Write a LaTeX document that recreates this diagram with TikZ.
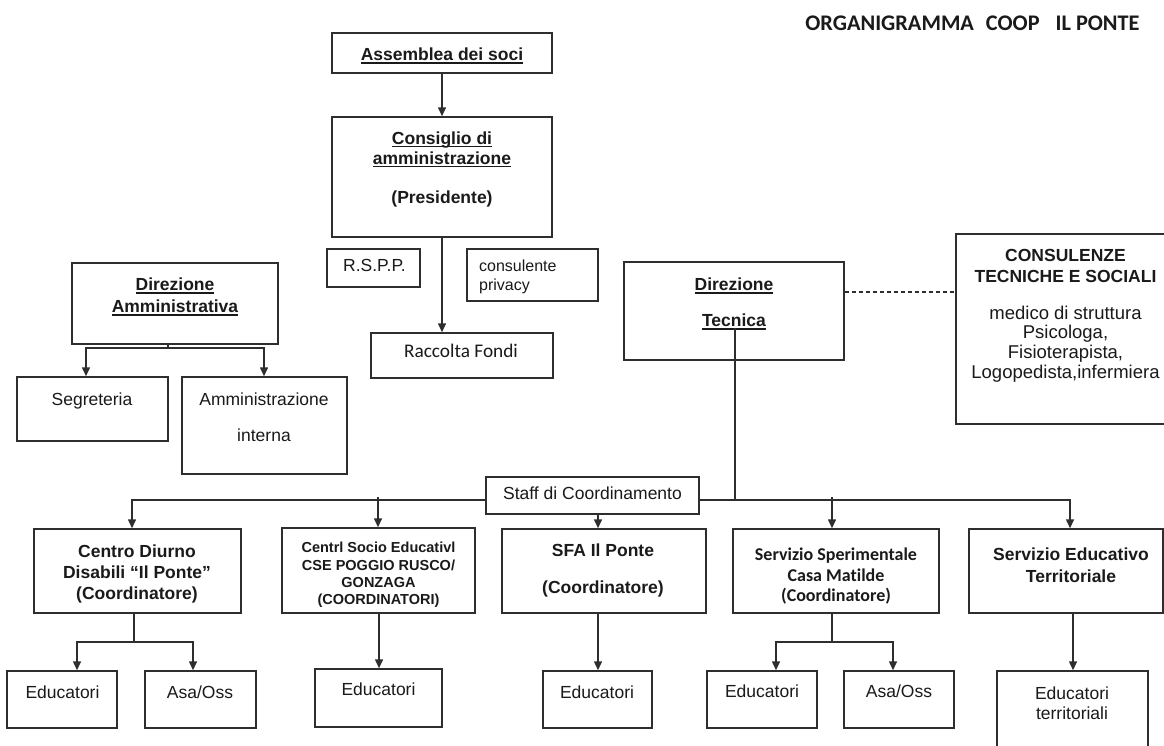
\documentclass[tikz,border=0pt]{standalone}
\usepackage{fontspec}
\setmainfont{Liberation Sans}
\newfontfamily\carl[Ligatures={NoCommon}]{Carlito}
\usetikzlibrary{arrows.meta}
\definecolor{lc}{HTML}{2E2E2E}
\definecolor{tc}{HTML}{1A1A1A}
\newsavebox\ulbox
\newcommand\ulx[1]{\sbox\ulbox{#1}\rlap{\rule[-3.2pt]{\wd\ulbox}{1.3pt}}\usebox\ulbox}
\newcommand\fB{\fontsize{17.5}{20}\selectfont\bfseries}
\newcommand\fR{\fontsize{17.5}{20}\selectfont}
\newcommand\fS{\fontsize{16}{19}\selectfont}
\newcommand\fSt{\fontsize{17.5}{20}\selectfont}
\newcommand\fCs{\fontsize{14.5}{17}\selectfont\bfseries}
\newcommand\fCo{\fontsize{18.5}{20}\selectfont}
\newcommand\fK{\carl\fontsize{19.3}{22}\selectfont}
\newcommand\fKB{\carl\bfseries\fontsize{18}{20}\selectfont}
\newcommand\fT{\carl\bfseries\fontsize{22.3}{25}\selectfont}
\newcommand\bx[5]{\node[box,minimum width=#4,minimum height=#5] (#1) at (#2,#3) {};}
\tikzset{
  ln/.style={line width=1.5pt, draw=lc},
  arr/.style={-{Triangle[length=9pt,width=8pt]}},
  box/.style={draw=lc, line width=1.5pt, rectangle, inner sep=0pt},
  tx/.style={anchor=base, inner sep=0pt, text=tc},
}
\begin{document}
\begin{tikzpicture}[x=1pt,y=-1pt]
\useasboundingbox (0,0) rectangle (1164,745);
\clip (0,0) rectangle (1164,745);
\fill[white] (0,0) rectangle (1164,745);

% title
\node[tx,font=\fT] (title) at (972.5,30) {ORGANIGRAMMA\hspace{12pt}COOP\hspace{16pt}IL PONTE};

% boxes
\bx{ass}{442}{53}{220}{40}
\bx{cda}{442}{177}{220}{120}
\bx{rspp}{373.5}{268}{93}{38}
\bx{priv}{532.5}{275}{131}{52}
\bx{rf}{462}{355.5}{182}{45}
\bx{da}{175}{303.5}{206}{81}
\bx{seg}{92.5}{409}{151}{64}
\bx{ai}{264.5}{425.5}{165}{97}
\bx{dt}{734}{311}{220}{98}
\bx{cons}{1066}{329}{220}{190}
\bx{staff}{592.5}{495.5}{213}{37}
\bx{cd}{137.5}{571}{207}{84}
\bx{cse}{378.5}{570.5}{193}{85}
\bx{sfa}{604}{571}{204}{84}
\bx{ss}{836}{571}{206}{84}
\bx{set}{1066}{571}{194}{84}
\bx{cde}{62}{699.5}{110}{57}
\bx{cda2}{200.5}{699.5}{111}{57}
\bx{csee}{378.5}{698}{127}{58}
\bx{sfae}{597.5}{699.5}{109}{57}
\bx{sse}{762}{699.5}{110}{57}
\bx{ssa}{899}{699.5}{110}{57}
\bx{sete}{1072.5}{715.5}{151}{89}

% texts
\node[tx,font=\fB] (t1) at (442,60.5) {\ulx{Assemblea dei soci}};
\node[tx,font=\fB] (t2) at (442,144) {\ulx{Consiglio di}};
\node[tx,font=\fB] (t3) at (442,164) {\ulx{amministrazione}};
\node[tx,font=\fB] (t4) at (442,203) {(Presidente)};
\node[tx,font=\fR] (t5) at (374.5,271) {R.S.P.P.};
\node[tx,font=\fS,anchor=base west] (t6) at (479,271) {consulente};
\node[tx,font=\fS,anchor=base west] (t7) at (479,290) {privacy};
\node[tx,font=\fK] (t8) at (461,357.5) {Raccolta Fondi};
\node[tx,font=\fB] (t9) at (175,290.5) {\ulx{Direzione}};
\node[tx,font=\fB] (t10) at (175,312.5) {\ulx{Amministrativa}};
\node[tx,font=\fR] (t11) at (92,405) {Segreteria};
\node[tx,font=\fR] (t12) at (264,405) {Amministrazione};
\node[tx,font=\fR] (t13) at (264,441.5) {interna};
\node[tx,font=\fB] (t14) at (734,290.5) {\ulx{Direzione}};
\node[tx,font=\fB] (t15) at (734,326.5) {\ulx{Tecnica}};
\node[tx,font=\fB] (t16) at (1065.5,261.5) {CONSULENZE};
\node[tx,font=\fB] (t17) at (1065.5,282) {TECNICHE E SOCIALI};
\node[tx,font=\fCo] (t18) at (1065.5,319.5) {medico di struttura};
\node[tx,font=\fCo] (t19) at (1065.5,338.5) {Psicologa,};
\node[tx,font=\fCo] (t20) at (1065.5,358) {Fisioterapista,};
\node[tx,font=\fCo] (t21) at (1065.5,378) {Logopedista,infermiera};
\node[tx,font=\fSt] (t22) at (592.5,499.5) {Staff di Coordinamento};
\node[tx,font=\fB] (t23) at (137,557.5) {Centro Diurno};
\node[tx,font=\fB] (t24) at (137,578) {Disabili “Il Ponte”};
\node[tx,font=\fB] (t25) at (137,599) {(Coordinatore)};
\node[tx,font=\fCs] (t26) at (378.5,552.5) {Centrl Socio Educativl};
\node[tx,font=\fCs] (t27) at (378.5,570) {CSE POGGIO RUSCO/};
\node[tx,font=\fCs] (t28) at (378.5,587) {GONZAGA};
\node[tx,font=\fCs] (t29) at (378.5,604.5) {(COORDINATORI)};
\node[tx,font=\fB] (t30) at (603,556.5) {SFA Il Ponte};
\node[tx,font=\fB] (t31) at (603,593.5) {(Coordinatore)};
\node[tx,font=\fKB] (t32) at (836,560.5) {Servizio Sperimentale};
\node[tx,font=\fKB] (t33) at (836,581) {Casa Matilde};
\node[tx,font=\fKB] (t34) at (836,601.5) {(Coordinatore)};
\node[tx,font=\fB] (t35) at (1071,560.5) {Servizio Educativo};
\node[tx,font=\fB] (t36) at (1071,582) {Territoriale};
\node[tx,font=\fR] (t37) at (62.5,698.5) {Educatori};
\node[tx,font=\fR] (t38) at (200,698.5) {Asa/Oss};
\node[tx,font=\fR] (t39) at (378.5,695.5) {Educatori};
\node[tx,font=\fR] (t40) at (597,698) {Educatori};
\node[tx,font=\fR] (t41) at (762,697) {Educatori};
\node[tx,font=\fR] (t42) at (899,697.5) {Asa/Oss};
\node[tx,font=\fR] (t43) at (1072,699) {Educatori};
\node[tx,font=\fR] (t44) at (1072,719) {territoriali};

% junction coordinates
\coordinate (daj) at (168,348);
\coordinate (daL) at (86,348);
\coordinate (daR) at (264,348);
\coordinate (dtTop) at (735,328);
\coordinate (dtj) at (735,500);
\coordinate (hL) at (132,500);
\coordinate (hR) at (1070,500);
\coordinate (cseT) at (378,497);
\coordinate (ssT) at (832,497);
\coordinate (sfaX) at (598,0);
\coordinate (cdj) at (134,642);
\coordinate (cdjL) at (77,642);
\coordinate (cdjR) at (193,642);
\coordinate (ssj) at (832,642);
\coordinate (ssjL) at (776,642);
\coordinate (ssjR) at (893,642);
\coordinate (cseX) at (379,0);
\coordinate (setX) at (1073,0);
\coordinate (dashy) at (0,292);

% connectors
\draw[ln,arr] (ass.south) -- (cda.north);
\draw[ln,arr] (cda.south) -- (cda.south |- rf.north);
\draw[ln] (da.south -| daj) -- (daj);
\draw[ln,arr] (daj) -- (daL) -- (daL |- seg.north);
\draw[ln,arr] (daj) -- (daR) -- (daR |- ai.north);
\draw[ln,line width=1.2pt,dash pattern=on 4pt off 3pt] (dt.east |- dashy) -- (cons.west |- dashy);
\draw[ln] (dtTop) -- (dtj);
\draw[ln,arr] (staff.west |- hL) -- (hL) -- (hL |- cd.north);
\draw[ln,arr] (staff.east |- hR) -- (hR) -- (hR |- set.north);
\draw[ln,arr] (cseT) -- (cseT |- cse.north);
\draw[ln,arr] (ssT) -- (ssT |- ss.north);
\draw[ln,arr] (staff.south -| sfaX) -- (sfa.north -| sfaX);
\draw[ln] (cd.south -| cdj) -- (cdj);
\draw[ln,arr] (cdj) -- (cdjL) -- (cdjL |- cde.north);
\draw[ln,arr] (cdj) -- (cdjR) -- (cdjR |- cda2.north);
\draw[ln,arr] (cse.south -| cseX) -- (csee.north -| cseX);
\draw[ln,arr] (sfa.south -| sfaX) -- (sfae.north -| sfaX);
\draw[ln] (ss.south -| ssj) -- (ssj);
\draw[ln,arr] (ssj) -- (ssjL) -- (ssjL |- sse.north);
\draw[ln,arr] (ssj) -- (ssjR) -- (ssjR |- ssa.north);
\draw[ln,arr] (set.south -| setX) -- (sete.north -| setX);
\end{tikzpicture}
\end{document}
